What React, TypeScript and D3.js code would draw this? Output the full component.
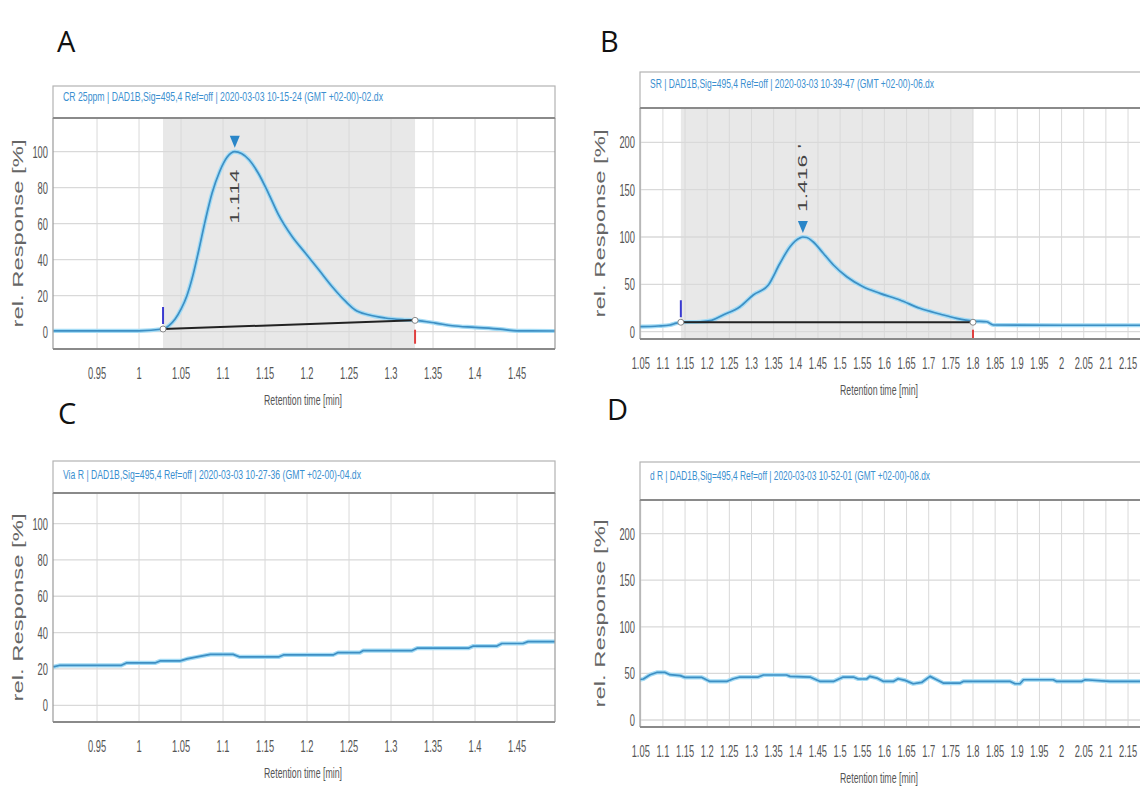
import React from "react";
import * as d3 from "d3";

// chromatogram traces: [retention time (min), rel. response (%)]
const crTrace: [number, number][] = [
  [0.898, 0.5], [1.0, 0.5], [1.0286, 1.5], [1.036, 3.5], [1.043, 7], [1.05, 12.5],
  [1.057, 20], [1.064, 31], [1.071, 45], [1.079, 62], [1.087, 77], [1.096, 89],
  [1.105, 97], [1.114, 100], [1.122, 99], [1.131, 95.5], [1.142, 88], [1.154, 77],
  [1.166, 65], [1.182, 53], [1.198, 43.7], [1.214, 34.4], [1.23, 25], [1.246, 16.8],
  [1.257, 12.2], [1.273, 9.4], [1.293, 7.6], [1.313, 6.7], [1.329, 6.3], [1.353, 4.8],
  [1.373, 3.3], [1.4, 2.4], [1.43, 1.4], [1.45, 0.5], [1.495, 0.4],
];

const srTrace: [number, number][] = [
  [1.048, 5.3], [1.09, 6], [1.116, 7.1], [1.13, 9], [1.1405, 10], [1.184, 10.5],
  [1.21, 12], [1.236, 17.6], [1.274, 26.4], [1.304, 38.8], [1.338, 49.3], [1.364, 72],
  [1.387, 89.8], [1.409, 99], [1.416, 100], [1.425, 99.5], [1.439, 95], [1.462, 82.8],
  [1.485, 70.4], [1.515, 58], [1.552, 47.5], [1.59, 40.5], [1.635, 33.5], [1.68, 24.7],
  [1.725, 18.7], [1.763, 14.1], [1.8, 11.2], [1.831, 10.5], [1.846, 7.1], [1.906, 7],
  [2.0, 6.8], [2.1, 6.8], [2.177, 6.8],
];

const viaTrace: [number, number][] = [
  [0.898, 21.1], [0.906, 22], [0.979, 22], [0.985, 23.3], [1.019, 23.3], [1.025, 24.4],
  [1.049, 24.4], [1.057, 25.5], [1.069, 26.6], [1.085, 28], [1.112, 28], [1.12, 26.6],
  [1.166, 26.6], [1.172, 27.7], [1.231, 27.7], [1.237, 29], [1.263, 29], [1.267, 30.1],
  [1.325, 30.1], [1.331, 31.4], [1.392, 31.4], [1.398, 32.6], [1.426, 32.6], [1.432, 34],
  [1.457, 34], [1.463, 35], [1.495, 35],
];

const dTrace: [number, number][] = [
  [1.045, 43.2], [1.056, 44], [1.071, 48.6], [1.086, 51], [1.105, 51], [1.116, 48.6],
  [1.139, 47.6], [1.15, 45.7], [1.188, 45.7], [1.206, 41.4], [1.244, 41.4], [1.259, 44.3],
  [1.274, 46.1], [1.315, 46.1], [1.327, 48.3], [1.379, 48.3], [1.387, 46.8], [1.432, 46.1],
  [1.455, 41.4], [1.485, 41.4], [1.507, 46.1], [1.53, 46.1], [1.541, 44], [1.56, 44],
  [1.567, 46.8], [1.583, 45], [1.598, 41.4], [1.62, 41.4], [1.631, 44.3], [1.647, 42.5],
  [1.665, 38.9], [1.684, 40.3], [1.703, 46.8], [1.718, 43.2], [1.733, 39.6], [1.771, 39.6],
  [1.778, 41.4], [1.884, 41.4], [1.895, 38.9], [1.906, 38.9], [1.914, 43.2], [1.981, 43.2],
  [1.989, 41.4], [2.045, 41.4], [2.053, 43.2], [2.109, 41.4], [2.177, 41.4],
];

const xTicksShort = [0.95, 1, 1.05, 1.1, 1.15, 1.2, 1.25, 1.3, 1.35, 1.4, 1.45];
const xTicksLong = [1.05, 1.1, 1.15, 1.2, 1.25, 1.3, 1.35, 1.4, 1.45, 1.5, 1.55, 1.6, 1.65,
  1.7, 1.75, 1.8, 1.85, 1.9, 1.95, 2, 2.05, 2.1, 2.15];
const yTicksSmall = [0, 20, 40, 60, 80, 100];
const yTicksLarge = [0, 50, 100, 150, 200];

const panelLetters = ["A", "B", "C", "D"];
const panelTitles = [
  "CR 25ppm | DAD1B,Sig=495,4 Ref=off | 2020-03-03 10-15-24 (GMT +02-00)-02.dx",
  "SR | DAD1B,Sig=495,4 Ref=off | 2020-03-03 10-39-47 (GMT +02-00)-06.dx",
  "Via R | DAD1B,Sig=495,4 Ref=off | 2020-03-03 10-27-36 (GMT +02-00)-04.dx",
  "d R | DAD1B,Sig=495,4 Ref=off | 2020-03-03 10-52-01 (GMT +02-00)-08.dx",
];

// integrated peaks (only A and B)
const peakTimes = [1.114, 1.416];
const peakLabels = ["1.114", "1.416 '"];
const windowStart = [1.0286, 1.1405];
const windowEnd = [1.3286, 1.8];
const baselineAtStart = [1.5, 10];
const baselineAtEnd = [6.3, 10];

const fmt = (v: number) => String(+v.toFixed(2));
const sans = "'Liberation Sans', Arial, sans-serif";

type Peak = { t: number; label: string; t0: number; t1: number; b0: number; b1: number; above: boolean };

type Cfg = {
  letter: string; letterX: number; letterY: number;
  title: string; titleLen: number; boxTop: number; titleY: number;
  left: number; right: number; top: number; bottom: number; openRight: boolean;
  xDomain: [number, number]; yDomain: [number, number];
  xTicks: number[]; yTicks: number[]; yTitleX: number; xTitleX: number;
  trace: [number, number][]; smooth: boolean; peak?: Peak;
};

function Panel({ c, id }: { c: Cfg; id: string }) {
  const x = d3.scaleLinear().domain(c.xDomain).range([c.left, c.right]);
  const y = d3.scaleLinear().domain(c.yDomain).range([c.bottom, c.top]);
  const line = d3.line<[number, number]>()
    .x(d => x(d[0])).y(d => y(d[1]))
    .curve(c.smooth ? d3.curveMonotoneX : d3.curveLinear);
  const path = line(c.trace) || "";
  const edge = c.openRight ? c.right + 20 : c.right;
  const p = c.peak;
  let peakY = 0;
  if (p) {
    const near = c.trace.filter(d => Math.abs(d[0] - p.t) < 0.02);
    peakY = y(d3.max(near, d => d[1]) as number);
  }
  return (
    <g>
      <text x={c.letterX} y={c.letterY} fontFamily="'Open Sans', sans-serif" fontSize={29} fill="#111">{c.letter}</text>
      <defs>
        <clipPath id={id}>
          <rect x={c.left} y={c.top} width={c.right - c.left} height={c.bottom - c.top} />
        </clipPath>
      </defs>
      {/* title box */}
      <rect x={c.left} y={c.boxTop} width={edge - c.left} height={c.top - c.boxTop} fill="#fff" stroke="#b3b3b3" strokeWidth={1.2} />
      <text x={c.left + 10} y={c.titleY} fontFamily={sans} fontSize={13} fill="#3b8fd0"
        textLength={c.titleLen} lengthAdjust="spacingAndGlyphs">{c.title}</text>
      <rect x={c.left} y={c.top} width={c.right - c.left} height={c.bottom - c.top} fill="#fff" />
      {p && (
        <rect x={x(p.t0)} y={c.top} width={x(p.t1) - x(p.t0)} height={c.bottom - c.top} fill="#e8e8e8" />
      )}
      {c.xTicks.map(t => (
        <line key={"gx" + t} x1={x(t)} x2={x(t)} y1={c.top} y2={c.bottom} stroke="#d9d9d9" strokeWidth={1} />
      ))}
      {c.yTicks.map(t => (
        <line key={"gy" + t} x1={c.left} x2={c.right} y1={y(t)} y2={y(t)} stroke="#d9d9d9" strokeWidth={1.3} />
      ))}
      <g clipPath={`url(#${id})`}>
        <path d={path} fill="none" stroke="#a3dbf5" strokeWidth={4.2} strokeLinejoin="round" />
        <path d={path} fill="none" stroke="#3d8fc4" strokeWidth={1.7} strokeLinejoin="round" />
      </g>
      {p && (
        <g>
          <line x1={x(p.t0)} x2={x(p.t1)} y1={y(p.b0)} y2={y(p.b1)} stroke="#222" strokeWidth={2} />
          <line x1={x(p.t0)} x2={x(p.t0)} y1={y(p.b0) - 22} y2={y(p.b0) - 5} stroke="#3a3ad0" strokeWidth={2} />
          <line x1={x(p.t1)} x2={x(p.t1)} y1={y(0) - 2} y2={Math.min(c.bottom, y(0) + 12)} stroke="#e04040" strokeWidth={2} />
          <circle cx={x(p.t0)} cy={y(p.b0)} r={3} fill="#fff" stroke="#888" strokeWidth={1} />
          <circle cx={x(p.t1)} cy={y(p.b1)} r={3} fill="#fff" stroke="#888" strokeWidth={1} />
          <path d={`M${x(p.t) - 5},${peakY - 16} L${x(p.t) + 5},${peakY - 16} L${x(p.t)},${peakY - 4} Z`} fill="#2a86c8" />
          <text transform={`translate(${x(p.t)},${p.above ? peakY - 25 : peakY + 18}) rotate(-90)`}
            textAnchor={p.above ? "start" : "end"} dominantBaseline="central"
            fontFamily={sans} fontSize={13} fill="#444"
            textLength={p.above ? 68 : 54} lengthAdjust="spacingAndGlyphs">{p.label}</text>
        </g>
      )}
      {/* frame */}
      <line x1={c.left} x2={c.left} y1={c.top} y2={c.bottom} stroke="#9a9a9a" strokeWidth={1.2} />
      {!c.openRight && <line x1={c.right} x2={c.right} y1={c.top} y2={c.bottom} stroke="#9a9a9a" strokeWidth={1.2} />}
      <line x1={c.left} x2={edge} y1={c.bottom} y2={c.bottom} stroke="#8a8a8a" strokeWidth={2} />
      <line x1={c.left} x2={edge} y1={c.top} y2={c.top} stroke="#8a8a8a" strokeWidth={2} />
      {/* tick labels */}
      {c.xTicks.filter(t => x(t) > c.left - 15 && x(t) < 1135).map(t => (
        <text key={"lx" + t} transform={`translate(${x(t)},${c.bottom + 30}) scale(0.55,1)`}
          textAnchor="middle" fontFamily={sans} fontSize={17} fill="#555">{fmt(t)}</text>
      ))}
      {c.yTicks.map(t => (
        <text key={"ly" + t} transform={`translate(${c.left - 5},${y(t) + 6}) scale(0.55,1)`}
          textAnchor="end" fontFamily={sans} fontSize={17} fill="#555">{fmt(t)}</text>
      ))}
      <text x={c.xTitleX} y={c.bottom + 56} textAnchor="middle" fontFamily={sans} fontSize={15} fill="#555"
        textLength={78} lengthAdjust="spacingAndGlyphs">Retention time [min]</text>
      <text transform={`translate(${c.yTitleX},${(c.top + c.bottom) / 2}) rotate(-90)`} textAnchor="middle"
        dominantBaseline="central" fontFamily={sans} fontSize={14} fill="#666"
        textLength={188} lengthAdjust="spacingAndGlyphs">rel. Response [%]</text>
    </g>
  );
}

const peakA: Peak = { t: peakTimes[0], label: peakLabels[0], t0: windowStart[0], t1: windowEnd[0], b0: baselineAtStart[0], b1: baselineAtEnd[0], above: false };
const peakB: Peak = { t: peakTimes[1], label: peakLabels[1], t0: windowStart[1], t1: windowEnd[1], b0: baselineAtStart[1], b1: baselineAtEnd[1], above: true };

const panels: Cfg[] = [
  {
    letter: panelLetters[0], letterX: 57, letterY: 52, title: panelTitles[0], titleLen: 320, boxTop: 86, titleY: 101,
    left: 53, right: 555, top: 118, bottom: 349, openRight: false,
    xDomain: [0.8976, 1.4952], yDomain: [-9.6, 118.7], xTicks: xTicksShort, yTicks: yTicksSmall,
    yTitleX: 18, xTitleX: 303, trace: crTrace, smooth: true, peak: peakA,
  },
  {
    letter: panelLetters[1], letterX: 600, letterY: 52, title: panelTitles[1], titleLen: 284, boxTop: 72, titleY: 88,
    left: 640, right: 1140, top: 108, bottom: 339, openRight: true,
    xDomain: [1.0483, 2.177], yDomain: [-7.7, 236.2], xTicks: xTicksLong, yTicks: yTicksLarge,
    yTitleX: 600, xTitleX: 879, trace: srTrace, smooth: true, peak: peakB,
  },
  {
    letter: panelLetters[2], letterX: 58, letterY: 424, title: panelTitles[2], titleLen: 298, boxTop: 461, titleY: 479,
    left: 53, right: 555, top: 493, bottom: 722, openRight: false,
    xDomain: [0.8976, 1.4952], yDomain: [-9.2, 116.8], xTicks: xTicksShort, yTicks: yTicksSmall,
    yTitleX: 18, xTitleX: 303, trace: viaTrace, smooth: false,
  },
  {
    letter: panelLetters[3], letterX: 607, letterY: 420, title: panelTitles[3], titleLen: 280, boxTop: 462, titleY: 480,
    left: 640, right: 1140, top: 500, bottom: 727, openRight: true,
    xDomain: [1.0483, 2.177], yDomain: [-7.5, 236], xTicks: xTicksLong, yTicks: yTicksLarge,
    yTitleX: 600, xTitleX: 879, trace: dTrace, smooth: false,
  },
];

export default function App() {
  return (
    <svg width={1140} height={793} style={{ position: "absolute", left: 0, top: 0, background: "#fff" }}>
      <rect width={1140} height={793} fill="#fff" />
      {panels.map((c, i) => <Panel key={i} c={c} id={"clip" + i} />)}
    </svg>
  );
}
